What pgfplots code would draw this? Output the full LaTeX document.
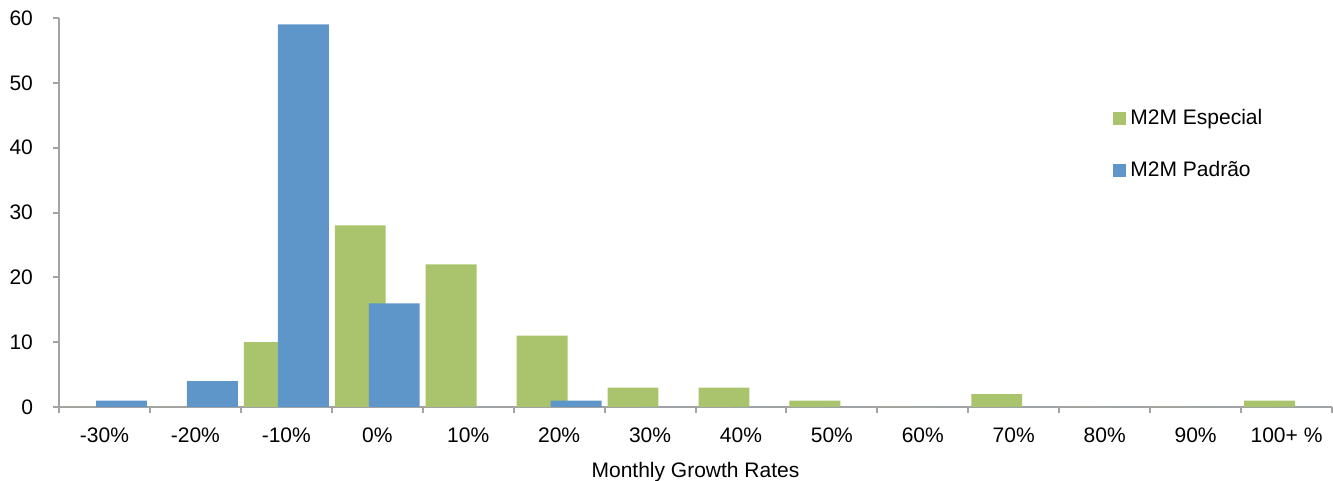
\documentclass[border=0pt]{standalone}
\usepackage{fontspec}
\setmainfont{Liberation Sans}
\usepackage{pgfplots}
\pgfplotsset{compat=1.18}

\definecolor{espgreen}{RGB}{169,196,108}
\definecolor{padblue}{RGB}{95,150,201}
\definecolor{axgray}{RGB}{163,163,163}

\begin{document}
\begin{tikzpicture}
	\begin{axis}[
			scale only axis,
			width=636.5pt, height=194.5pt,
			xmin=-0.5, xmax=13.5,
			ymin=0, ymax=60,
			axis lines*=left,
			axis line style={axgray, line width=1pt},
			every tick/.style={axgray, line width=1pt},
			tick align=outside,
			major tick length=3pt,
			xtick={-0.5,0.5,...,13.5},
			xticklabels={},
			extra x ticks={0,...,13},
			extra x tick labels={-30\%,-20\%,-10\%,0\%,10\%,20\%,30\%,40\%,50\%,60\%,70\%,80\%,90\%,100+ \%},
			extra x tick style={major tick length=0pt, xticklabel style={yshift=-7pt}},
			ytick={0,10,...,60},
			yticklabel style={xshift=-6.5pt},
			tick label style={font=\fontsize{10.5}{12}\selectfont, black},
			/pgf/number format/assume math mode=true,
			xlabel={Monthly Growth Rates},
			xlabel style={at={(rel axis cs:0.5,0)}, anchor=north, yshift=-24pt, font=\fontsize{10.5}{12}\selectfont},
			ybar, bar width=0.56,
			legend cell align=left,
			legend style={at={(rel axis cs:0.828,0.675)}, anchor=west, draw=none, fill=none,
				inner sep=0pt, row sep=13pt, font=\fontsize{10.5}{12}\selectfont},
			legend image code/.code={\fill (0pt,-3.25pt) rectangle (6.5pt,3.25pt);},
		]
		\addplot [draw=none, fill=espgreen, bar shift=-0.187] coordinates {
			(0, 0) (1, 0) (2, 10) (3, 28) (4, 22) (5, 11) (6, 3)
			(7, 3) (8, 1) (9, 0) (10, 2) (11, 0) (12, 0) (13, 1)
		};
		\addlegendentry{M2M Especial}

		\addplot [draw=none, fill=padblue, bar shift=0.187] coordinates {
			(0, 1) (1, 4) (2, 59) (3, 16) (4, 0) (5, 1) (6, 0)
			(7, 0) (8, 0) (9, 0) (10, 0) (11, 0) (12, 0) (13, 0)
		};
		\addlegendentry{M2M Padrão}

		\coordinate (bbsw) at (rel axis cs:0,0);
		\coordinate (bbne) at (rel axis cs:1,1);
	\end{axis}
	\pgfresetboundingbox
	\path[use as bounding box] ([xshift=-29.5pt, yshift=-37pt]bbsw) rectangle ([xshift=0.5pt, yshift=9pt]bbne);
\end{tikzpicture}
\end{document}
